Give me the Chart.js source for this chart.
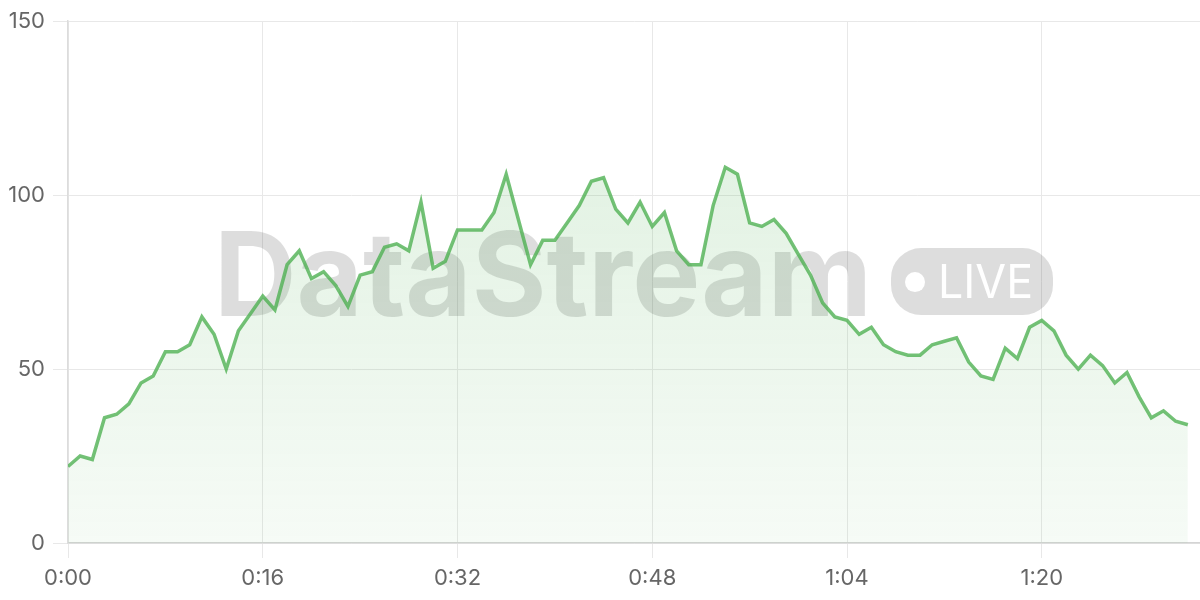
<!DOCTYPE html>
<html>
<head>
<meta charset="utf-8">
<script src="https://cdn.jsdelivr.net/npm/chart.js@4/dist/chart.umd.min.js"></script>
<style>
  html, body { margin: 0; padding: 0; background: #fff; }
  #wrap { width: 1200px; height: 600px; }
</style>
</head>
<body>
<div id="wrap"><canvas id="grafico"></canvas></div>
<script>
// valores, um por segundo (0:00 .. 1:32)
const valores = [
  22, 25, 24, 36, 37, 40, 46, 48, 55, 55,
  57, 65, 60, 50, 61, 66, 71, 67, 80, 84,
  76, 78, 74, 68, 77, 78, 85, 86, 84, 98,
  79, 81, 90, 90, 90, 95, 106, 93, 80, 87,
  87, 92, 97, 104, 105, 96, 92, 98, 91, 95,
  84, 80, 80, 97, 108, 106, 92, 91, 93, 89,
  83, 77, 69, 65, 64, 60, 62, 57, 55, 54,
  54, 57, 58, 59, 52, 48, 47, 56, 53, 62,
  64, 61, 54, 50, 54, 51, 46, 49, 42, 36,
  38, 35, 34
];
const ticksX = [0, 16, 32, 48, 64, 80];
const ticksY = [0, 50, 100, 150];
const fimX = 93;

const fonte = "Inter, 'Liberation Sans', sans-serif";

function mmss(s) {
  const m = Math.floor(s / 60);
  const r = s % 60;
  return m + ':' + String(r).padStart(2, '0');
}

// marca d'água "DataStream • LIVE" atrás da linha
const marcaDagua = {
  id: 'marcaDagua',
  beforeDatasetsDraw(chart) {
    const { ctx, chartArea: a } = chart;
    const cx = (a.left + a.right) / 2;
    const cy = (a.top + a.bottom) / 2;
    ctx.save();
    ctx.fillStyle = 'rgba(0,0,0,0.135)';

    // texto principal
    ctx.font = "bold 117px " + fonte;
    ctx.textBaseline = 'alphabetic';
    ctx.textAlign = 'left';
    const larg = ctx.measureText('DataStream').width;
    const esq = cx - 420;
    ctx.save();
    ctx.translate(esq, cy + 34);
    ctx.scale(658 / larg, 1);
    ctx.fillText('DataStream', 0, 0);
    ctx.restore();

    // pílula LIVE
    const px = cx + 257, py = cy - 34, pw = 162, ph = 67;
    ctx.beginPath();
    ctx.roundRect(px, py, pw, ph, 30);
    ctx.fill();

    ctx.fillStyle = '#fff';
    ctx.beginPath();
    ctx.arc(px + 24, cy, 10, 0, Math.PI * 2);
    ctx.fill();

    ctx.font = "47px " + fonte;
    const lw = ctx.measureText('LIVE').width;
    ctx.save();
    ctx.translate(px + 47, cy + 16);
    ctx.scale(95 / lw, 1);
    ctx.fillText('LIVE', 0, 0);
    ctx.restore();

    ctx.restore();
  }
};

const ctx = document.getElementById('grafico');

new Chart(ctx, {
  type: 'line',
  data: {
    datasets: [{
      data: valores.map((v, i) => ({ x: i, y: v })),
      borderColor: 'rgba(76,175,80,0.78)',
      borderWidth: 3.5,
      pointRadius: 0,
      tension: 0,
      fill: 'origin',
      backgroundColor: (c) => {
        const a = c.chart.chartArea;
        if (!a) return 'rgba(76,175,80,0.1)';
        const g = c.chart.ctx.createLinearGradient(0, a.top, 0, a.bottom);
        g.addColorStop(0, 'rgba(76,175,80,0.2)');
        g.addColorStop(1, 'rgba(76,175,80,0.05)');
        return g;
      }
    }]
  },
  options: {
    responsive: true,
    maintainAspectRatio: false,
    animation: false,
    layout: { padding: { top: 20, right: 0, left: 0, bottom: 0 } },
    plugins: {
      legend: { display: false },
      tooltip: { enabled: false }
    },
    scales: {
      x: {
        type: 'linear',
        min: 0,
        max: fimX,
        afterBuildTicks: (ax) => { ax.ticks = ticksX.map(v => ({ value: v })); },
        afterFit: (ax) => { ax.height = 57; },
        ticks: {
          callback: (v) => mmss(v),
          color: '#666',
          font: { family: fonte, size: 22 },
          padding: 7,
          maxRotation: 0
        },
        grid: { color: '#e8e8e8', tickLength: 15 },
        border: { color: '#d4d4d4', width: 1.5 }
      },
      y: {
        min: 0,
        max: 150,
        afterBuildTicks: (ax) => { ax.ticks = ticksY.map(v => ({ value: v })); },
        afterFit: (ax) => { ax.width = 68; },
        ticks: {
          color: '#666',
          font: { family: fonte, size: 22 },
          padding: 8
        },
        grid: { color: '#e8e8e8', tickLength: 15 },
        border: { color: '#dcdcdc', width: 1.5 }
      }
    }
  },
  plugins: [marcaDagua]
});
</script>
</body>
</html>
